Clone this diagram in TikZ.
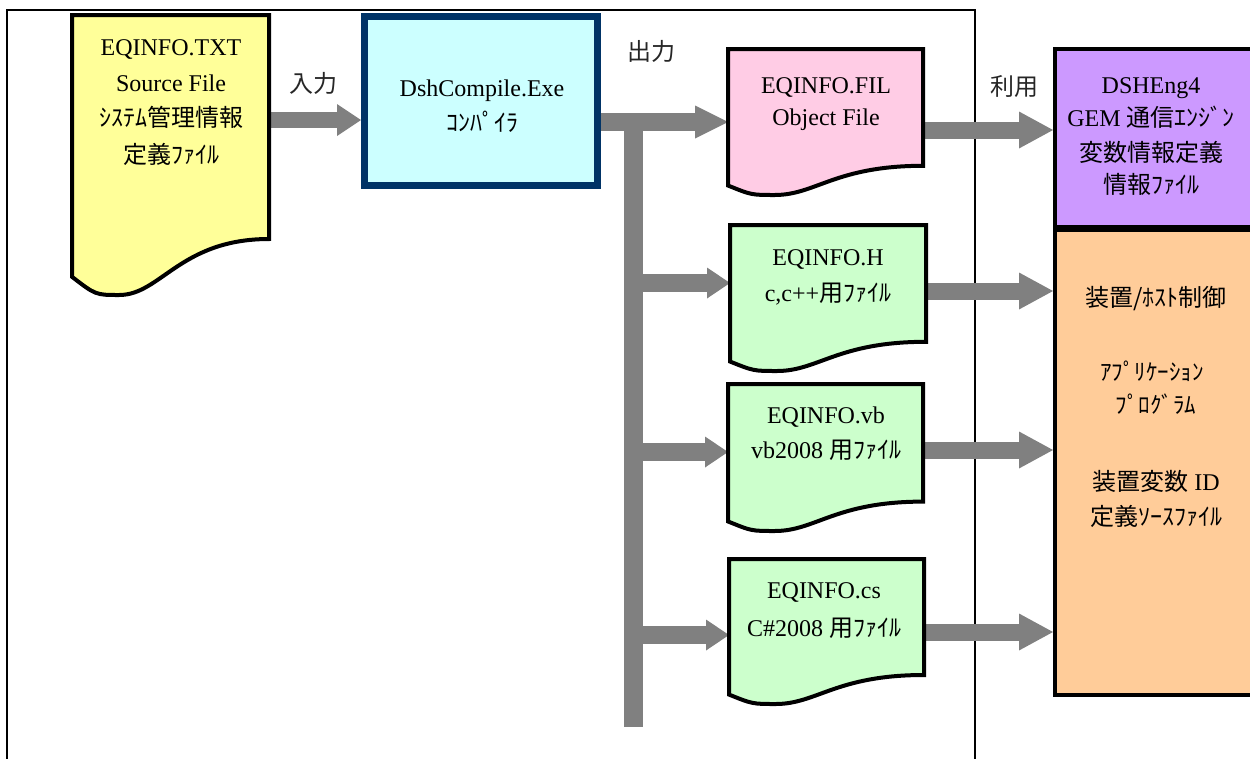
\documentclass[tikz,border=0pt]{standalone}
\usepackage{fontspec}
\setmainfont{Liberation Serif}
\newfontfamily\jp{Noto Sans CJK JP}
\usetikzlibrary{arrows.meta,calc}
\pgfdeclarelayer{bg}
\pgfsetlayers{bg,main}
\definecolor{docyellow}{HTML}{FFFF99}
\definecolor{boxcyan}{HTML}{CCFFFF}
\definecolor{boxnavy}{HTML}{003366}
\definecolor{docpink}{HTML}{FFCCE5}
\definecolor{docgreen}{HTML}{CCFFCC}
\definecolor{boxpurple}{HTML}{CC99FF}
\definecolor{boxorange}{HTML}{FFCC99}
\definecolor{arrowgray}{HTML}{808080}
\newcommand\fs{\fontsize{24}{28}\selectfont}
\newcommand\fss{\fontsize{23}{26}\selectfont}
\newcommand\J[1]{{\jp #1}}
\newcommand\docshape[2]{%
  \filldraw[docline,fill=#2] let \p1=(#1.north west), \p2=(#1.south east) in
   (\x1,\y1) -- (\x2,\y1) -- (\x2,{\y1+0.8*(\y2-\y1)})
   .. controls ({\x1+0.55*(\x2-\x1)},{\y1+0.8*(\y2-\y1)}) and ({\x1+0.45*(\x2-\x1)},\y2) .. ({\x1+0.24*(\x2-\x1)},\y2)
   .. controls ({\x1+0.12*(\x2-\x1)},\y2) .. (\x1,{\y1+0.935*(\y2-\y1)}) -- cycle;}
\tikzset{
  docbody/.style={rectangle,inner sep=0pt,outer sep=0pt,anchor=north},
  docline/.style={draw=black,line width=4pt,line join=miter},
  ln/.style={anchor=base,inner sep=0pt,font=\fs},
  lnj/.style={anchor=base,inner sep=0pt,font=\fs\jp},
  lbl/.style={anchor=base,inner sep=0pt,font=\fs\jp,text=black!85},
  frameline/.style={draw=black,line width=2.5pt},
  blkS/.style={draw=arrowgray,line width=16pt,-{Triangle[length=24pt,width=32pt,line width=0pt]}},
  blkB/.style={draw=arrowgray,line width=18pt,-{Triangle[length=23pt,width=31pt,line width=0pt]}},
  blkM/.style={draw=arrowgray,line width=18pt,-{Triangle[length=33pt,width=33pt,line width=0pt]}},
  blkL/.style={draw=arrowgray,line width=17pt,-{Triangle[length=34pt,width=37pt,line width=0pt]}},
  bus/.style={draw=arrowgray,line width=19pt},
}
\begin{document}
\begin{tikzpicture}[x=1pt,y=-1pt]
\clip (0,0) rectangle (1250,758);
% document bodies (anchors only)
\node[docbody,minimum width=197pt,minimum height=280pt] (src) at (170.5,15) {};
\node[docbody,minimum width=195pt,minimum height=146pt] (obj) at (825.5,49) {};
\node[docbody,minimum width=196pt,minimum height=146pt] (hdr) at (828,225) {};
\node[docbody,minimum width=195pt,minimum height=147pt] (vbf) at (825.5,384) {};
\node[docbody,minimum width=195pt,minimum height=145pt] (csf) at (826.5,559) {};
% boxes
\node[draw=boxnavy,fill=boxcyan,line width=7pt,minimum width=233pt,minimum height=169pt,inner sep=0pt] (cmp) at (481,101) {};
\node[draw=black,fill=boxpurple,line width=4pt,minimum width=245pt,minimum height=178pt,inner sep=0pt] (eng) at (1177.5,138) {};
\node[draw=black,fill=boxorange,line width=4pt,minimum width=245pt,minimum height=465pt,inner sep=0pt] (app) at (1177.5,462.5) {};
% level coordinates
\coordinate (y120) at (0,120);
\coordinate (y122) at (0,122);
\coordinate (y130) at (0,130);
\coordinate (y291) at (0,291);
\coordinate (y450) at (0,450);
\coordinate (y632) at (0,632);
\coordinate (bustop) at (633.5,113);
\coordinate (busbot) at (633.5,727);
\coordinate (b1) at (633.5,283);
\coordinate (b2) at (633.5,452);
\coordinate (b3) at (633.5,635);
\begin{pgfonlayer}{bg}
\draw[frameline] (7,780) -- (7,10) -- (975,10) -- (975,780);
\draw[blkS] (src.east |- y120) -- (cmp.west |- y120);
\draw[blkM] (cmp.east |- y122) -- (obj.west |- y122);
\draw[bus] (bustop) -- (busbot);
\draw[blkB] (b1) -- (b1 -| hdr.west);
\draw[blkB] (b2) -- (b2 -| vbf.west);
\draw[blkB] (b3) -- (b3 -| csf.west);
\draw[blkL] (obj.east |- y130) -- (eng.west |- y130);
\draw[blkL] (hdr.east |- y291) -- (app.west |- y291);
\draw[blkL] (vbf.east |- y450) -- (app.west |- y450);
\draw[blkL] (csf.east |- y632) -- (app.west |- y632);
\end{pgfonlayer}
% document outlines
\docshape{src}{docyellow}
\docshape{obj}{docpink}
\docshape{hdr}{docgreen}
\docshape{vbf}{docgreen}
\docshape{csf}{docgreen}
% texts
\node[ln] (t1) at (171,55.5) {EQINFO.TXT};
\node[ln] (t2) at (171,91.5) {Source File};
\node[lnj] (t3) at (171,126.5) {ｼｽﾃﾑ管理情報};
\node[lnj] (t4) at (171,163.5) {定義ﾌｧｲﾙ};
\node[lbl] (l1) at (313,92.5) {入力};
\node[ln] (t5) at (482,96.5) {DshCompile.Exe};
\node[lnj] (t6) at (482,131.5) {ｺﾝﾊﾟｲﾗ};
\node[lbl] (l2) at (651,60.5) {出力};
\node[ln] (t7) at (826,93.5) {EQINFO.FIL};
\node[ln] (t8) at (826,125.5) {Object File};
\node[lbl] (l3) at (1014,95.5) {利用};
\node[ln] (t9) at (1151,93.5) {DSHEng4};
\node[ln] (t10) at (1151,126.5) {GEM \J{通信ｴﾝｼﾞﾝ}};
\node[lnj] (t11) at (1151,161.5) {変数情報定義};
\node[lnj] (t12) at (1151,193.5) {情報ﾌｧｲﾙ};
\node[ln] (t13) at (828,265.5) {EQINFO.H};
\node[ln] (t14) at (828,301.5) {c,c++\J{用ﾌｧｲﾙ}};
\node[ln] (t15) at (826,423.5) {EQINFO.vb};
\node[ln] (t16) at (826,458.5) {vb2008 \J{用ﾌｧｲﾙ}};
\node[ln] (t17) at (824,598.5) {EQINFO.cs};
\node[ln] (t18) at (824,636.5) {C\#2008 \J{用ﾌｧｲﾙ}};
\node[lnj] (t19) at (1156,306.5) {装置/ﾎｽﾄ制御};
\node[lnj,font=\fss\jp] (t20) at (1152,380) {ｱﾌﾟﾘｹｰｼｮﾝ};
\node[lnj,font=\fss\jp] (t21) at (1156,413) {ﾌﾟﾛｸﾞﾗﾑ};
\node[ln] (t22) at (1156,490.5) {\J{装置変数} ID};
\node[lnj] (t23) at (1156,525.5) {定義ｿｰｽﾌｧｲﾙ};
\end{tikzpicture}
\end{document}
